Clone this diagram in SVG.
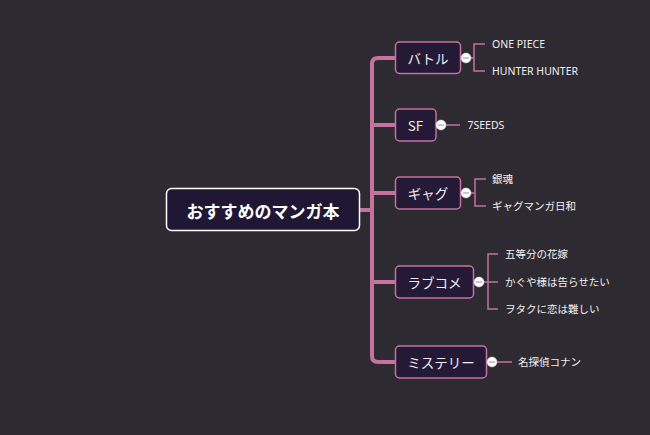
<svg xmlns="http://www.w3.org/2000/svg" width="650" height="435" viewBox="0 0 650 435">
<style>
.bg{fill:#2e2a32}
.trunk{fill:none;stroke:#c4729f;stroke-width:4;stroke-linecap:round;stroke-linejoin:round}
.leafline{fill:none;stroke:#c4729f;stroke-width:1.5}
.root{fill:#1f1733;stroke:#ffffff;stroke-width:1.5}
.branch{fill:#241a36;stroke:#c4729f;stroke-width:1.5}
.rtext{font-family:"Noto Sans CJK JP","Noto Sans",sans-serif;font-size:17px;font-weight:bold;fill:#ffffff;text-anchor:middle;dominant-baseline:central}
.btext{font-family:"Noto Sans CJK JP","Noto Sans",sans-serif;font-size:13.5px;fill:#f2eaf2;text-anchor:middle;dominant-baseline:central}
.ltext{font-family:"Noto Sans","Noto Sans CJK JP",sans-serif;font-size:10.5px;fill:#f2eef2;dominant-baseline:central}
.knob{fill:#ffffff;stroke:#d8d0d8;stroke-width:0.5}
.minus{stroke:#9a909a;stroke-width:1}
</style>
<rect class="bg" x="0" y="0" width="650" height="435"/>
<g id="connectors">
  <path class="trunk" d="M395,58 H378 Q372,58 372,64 V356 Q372,362 378,362 H395"/>
  <path class="trunk" d="M359,210 H372"/>
  <path class="trunk" d="M372,125 H395"/>
  <path class="trunk" d="M372,193 H395"/>
  <path class="trunk" d="M372,282 H395"/>
  <path class="leafline" d="M466,58 H474 M485,44 H474 V71 H485"/>
  <path class="leafline" d="M441,125 H460"/>
  <path class="leafline" d="M466,193 H475 M486,179 H475 V206 H486"/>
  <path class="leafline" d="M479,282 H498 M498,254 H488 V309 H498"/>
  <path class="leafline" d="M492,362 H512"/>
</g>
<g id="root">
  <rect class="root" x="166.5" y="188.5" width="193" height="42" rx="5"/>
  <text class="rtext" x="263" y="210">おすすめのマンガ本</text>
</g>
<g id="battle">
  <rect class="branch" x="395.5" y="42" width="65" height="31.5" rx="4"/>
  <text class="btext" x="428" y="58">バトル</text>
  <circle class="knob" cx="466" cy="58" r="5"/><line class="minus" x1="463" y1="58" x2="469" y2="58"/>
</g>
<g id="sf">
  <rect class="branch" x="395.5" y="109" width="40.5" height="32" rx="4"/>
  <text class="btext" x="415.5" y="125">SF</text>
  <circle class="knob" cx="441" cy="125" r="5"/><line class="minus" x1="438" y1="125" x2="444" y2="125"/>
</g>
<g id="gag">
  <rect class="branch" x="395.5" y="177" width="65" height="32" rx="4"/>
  <text class="btext" x="428" y="193">ギャグ</text>
  <circle class="knob" cx="466" cy="193" r="5"/><line class="minus" x1="463" y1="193" x2="469" y2="193"/>
</g>
<g id="romcom">
  <rect class="branch" x="395.5" y="266" width="78" height="32" rx="4"/>
  <text class="btext" x="434.5" y="282">ラブコメ</text>
  <circle class="knob" cx="479" cy="282" r="5"/><line class="minus" x1="476" y1="282" x2="482" y2="282"/>
</g>
<g id="mystery">
  <rect class="branch" x="395.5" y="346" width="91" height="32" rx="4"/>
  <text class="btext" x="441" y="362">ミステリー</text>
  <circle class="knob" cx="492" cy="362" r="5"/><line class="minus" x1="489" y1="362" x2="495" y2="362"/>
</g>
<g id="leaf-onepiece"><text class="ltext" x="492" y="44">ONE PIECE</text></g>
<g id="leaf-hunter"><text class="ltext" x="492" y="71">HUNTER HUNTER</text></g>
<g id="leaf-7seeds"><text class="ltext" x="467.5" y="125">7SEEDS</text></g>
<g id="leaf-gintama"><text class="ltext" x="492" y="179">銀魂</text></g>
<g id="leaf-gagmanga"><text class="ltext" x="492" y="206">ギャグマンガ日和</text></g>
<g id="leaf-gotoubun"><text class="ltext" x="505" y="254">五等分の花嫁</text></g>
<g id="leaf-kaguya"><text class="ltext" x="505" y="282">かぐや様は告らせたい</text></g>
<g id="leaf-wotaku"><text class="ltext" x="505" y="309">ヲタクに恋は難しい</text></g>
<g id="leaf-conan"><text class="ltext" x="518" y="362">名探偵コナン</text></g>
</svg>
